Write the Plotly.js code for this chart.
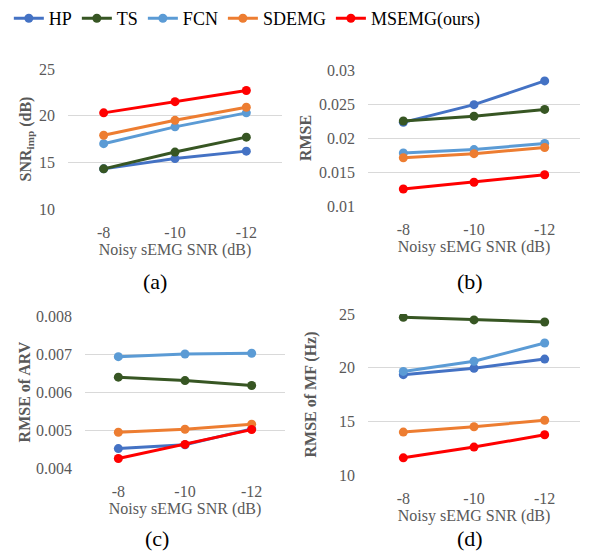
<!DOCTYPE html>
<html>
<head>
<meta charset="utf-8">
<script src="https://cdn.plot.ly/plotly-3.0.1.min.js"></script>
<style>html,body{margin:0;padding:0;background:#fff;}#chart{width:589px;height:557px;}</style>
</head>
<body>
<div id="chart"></div>
<script>
const categories = ["-8", "-10", "-12"];
const seriesNames = ["HP", "TS", "FCN", "SDEMG", "MSEMG(ours)"];
const seriesColors = ["#4472C4", "#375623", "#5B9BD5", "#ED7D31", "#FF0000"];

// (a) SNR_imp (dB)
const snrHP = [14.3, 15.4, 16.2];
const snrTS = [14.3, 16.1, 17.7];
const snrFCN = [17.0, 18.8, 20.3];
const snrSDEMG = [17.9, 19.5, 20.9];
const snrMSEMG = [20.3, 21.5, 22.7];

// (b) RMSE
const rmseHP = [0.0223, 0.0249, 0.0284];
const rmseTS = [0.0225, 0.0232, 0.0242];
const rmseFCN = [0.0178, 0.0183, 0.0192];
const rmseSDEMG = [0.0171, 0.0177, 0.0186];
const rmseMSEMG = [0.0125, 0.0135, 0.0146];

// (c) RMSE of ARV
const arvHP = [0.00451, 0.00461, 0.00503];
const arvTS = [0.00639, 0.00630, 0.00617];
const arvFCN = [0.00693, 0.00700, 0.00702];
const arvSDEMG = [0.00494, 0.00502, 0.00515];
const arvMSEMG = [0.00425, 0.00462, 0.00501];

// (d) RMSE of MF (Hz)
const mfHP = [19.35, 19.95, 20.8];
const mfTS = [24.7, 24.45, 24.25];
const mfFCN = [19.65, 20.6, 22.3];
const mfSDEMG = [14.0, 14.5, 15.1];
const mfMSEMG = [11.6, 12.6, 13.75];

const ticksA = [10, 15, 20, 25];
const tickTextA = ["10", "15", "20", "25"];
const ticksB = [0.01, 0.015, 0.02, 0.025, 0.03];
const tickTextB = ["0.01", "0.015", "0.02", "0.025", "0.03"];
const ticksC = [0.004, 0.005, 0.006, 0.007, 0.008];
const tickTextC = ["0.004", "0.005", "0.006", "0.007", "0.008"];
const ticksD = [10, 15, 20, 25];
const tickTextD = ["10", "15", "20", "25"];

const panels = [
  {data: [snrHP, snrTS, snrFCN, snrSDEMG, snrMSEMG], ax: ""},
  {data: [rmseHP, rmseTS, rmseFCN, rmseSDEMG, rmseMSEMG], ax: "2"},
  {data: [arvHP, arvTS, arvFCN, arvSDEMG, arvMSEMG], ax: "3"},
  {data: [mfHP, mfTS, mfFCN, mfSDEMG, mfMSEMG], ax: "4"}
];

const W = 589, H = 557;
const traces = [];
panels.forEach((p, pi) => {
  p.data.forEach((vals, si) => {
    traces.push({
      type: "scatter", mode: "lines+markers",
      x: categories, y: vals,
      name: seriesNames[si],
      legendgroup: seriesNames[si],
      showlegend: pi === 0,
      xaxis: "x" + p.ax, yaxis: "y" + p.ax,
      line: {color: seriesColors[si], width: 3},
      marker: {color: seriesColors[si], size: 9},
      hoverinfo: "skip"
    });
  });
});

function xd(l, r) { return [l / W, r / W]; }
function yd(t, b) { return [1 - b / H, 1 - t / H]; }

const serif = "Liberation Serif";
const gray = "#595959";

function xaxis(dom, anchor) {
  return {
    domain: dom, anchor: anchor, type: "category",
    range: [-0.5, 2.5],
    showgrid: false, zeroline: false, showline: false, ticks: "",
    ticklabelstandoff: 12,
    tickfont: {family: serif, size: 16, color: gray},
    title: {text: "Noisy sEMG SNR (dB)", font: {family: serif, size: 16, color: gray}, standoff: 3},
    fixedrange: true
  };
}
function yaxis(dom, anchor, range, tv, tt, title, standoff) {
  return {
    domain: dom, anchor: anchor, range: range,
    tickvals: tv, ticktext: tt,
    showgrid: true, gridcolor: "#D9D9D9", gridwidth: 1,
    zeroline: false, showline: false, ticks: "",
    ticklabelstandoff: 12,
    tickfont: {family: serif, size: 16, color: gray},
    title: {text: title, font: {family: serif, size: 16, color: gray}, standoff: standoff},
    fixedrange: true
  };
}

const layout = {
  width: W, height: H,
  margin: {l: 0, r: 0, t: 0, b: 0},
  paper_bgcolor: "#fff", plot_bgcolor: "#fff",
  showlegend: true,
  legend: {
    orientation: "h", x: 0.015, y: 1, xanchor: "left", yanchor: "top",
    font: {family: serif, size: 18, color: "#000"},
    itemwidth: 30, tracegroupgap: 0
  },
  xaxis: xaxis(xd(68, 282), "y"),
  yaxis: yaxis(yd(69, 209), "x", [10, 25], ticksA, tickTextA, "<b>SNR<sub>imp</sub> (dB)</b>", 3),
  xaxis2: xaxis(xd(368, 580), "y2"),
  yaxis2: yaxis(yd(70, 206), "x2", [0.01, 0.03], ticksB, tickTextB, "<b>RMSE</b>", 3),
  xaxis3: xaxis(xd(85, 285), "y3"),
  yaxis3: yaxis(yd(316, 468), "x3", [0.004, 0.008], ticksC, tickTextC, "<b>RMSE of ARV</b>", 1),
  xaxis4: xaxis(xd(368, 580), "y4"),
  yaxis4: yaxis(yd(314, 475), "x4", [10, 25], ticksD, tickTextD, "<b>RMSE of MF (Hz)</b>", 18),
  annotations: [
    {text: "(a)", x: 155 / W, y: 1 - 282 / H},
    {text: "(b)", x: 470 / W, y: 1 - 282 / H},
    {text: "(c)", x: 157 / W, y: 1 - 538 / H},
    {text: "(d)", x: 470 / W, y: 1 - 538 / H}
  ].map(a => Object.assign(a, {xref: "paper", yref: "paper", showarrow: false,
    xanchor: "center", yanchor: "middle", font: {family: serif, size: 22, color: "#000"}}))
};

Plotly.newPlot("chart", traces, layout, {staticPlot: true, displayModeBar: false});
</script>
</body>
</html>
